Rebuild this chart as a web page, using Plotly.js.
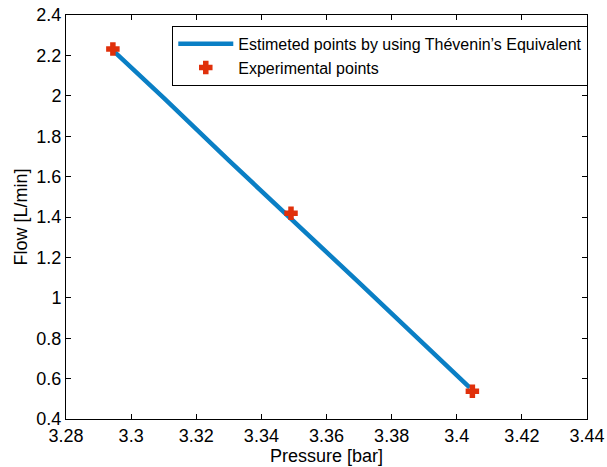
<!DOCTYPE html>
<html>
<head>
<meta charset="utf-8">
<script src="https://cdn.plot.ly/plotly-3.0.1.min.js"></script>
<style>html,body{margin:0;padding:0;background:#fff;}#chart{width:607px;height:467px;}</style>
</head>
<body>
<div id="chart"></div>
<script>
// Estimated line (Thévenin's equivalent)
const estPressure = [3.2944, 3.31, 3.33, 3.349, 3.37, 3.39, 3.404];
const estFlow     = [2.225, 1.99, 1.68, 1.395, 1.075, 0.77, 0.555];
// Experimental points
const expPressure = [3.2944, 3.3491, 3.4048];
const expFlow     = [2.232, 1.418, 0.537];
// Tick values
const xTicks = [3.28, 3.3, 3.32, 3.34, 3.36, 3.38, 3.4, 3.42, 3.44];
const xTickLabels = ['3.28', '3.3', '3.32', '3.34', '3.36', '3.38', '3.4', '3.42', '3.44'];
const yTicks = [0.4, 0.6, 0.8, 1, 1.2, 1.4, 1.6, 1.8, 2, 2.2, 2.4];
const yTickLabels = ['0.4', '0.6', '0.8', '1', '1.2', '1.4', '1.6', '1.8', '2', '2.2', '2.4'];

const FONT = 'Liberation Sans, Arial, Helvetica, sans-serif';

const traces = [
  {
    x: estPressure, y: estFlow, type: 'scatter', mode: 'lines',
    name: 'Estimeted points by using Thévenin’s Equivalent',
    line: {color: '#0a7fc5', width: 4.5}
  },
  {
    x: expPressure, y: expFlow, type: 'scatter', mode: 'markers',
    name: 'Experimental points',
    marker: {symbol: 'cross', size: 10, color: '#e0300b', line: {width: 1.5, color: '#e0300b'}}
  }
];

const axisCommon = {
  showgrid: false, zeroline: false, showline: true, linecolor: '#000', linewidth: 1,
  mirror: 'ticks', ticks: 'inside', ticklen: 5, tickcolor: '#000', tickwidth: 1,
  tickfont: {family: FONT, size: 18, color: '#000'}
};

const layout = {
  width: 607, height: 467,
  margin: {l: 65.5, r: 20, t: 15, b: 48},
  paper_bgcolor: '#fff', plot_bgcolor: '#fff',
  font: {family: FONT, color: '#000'},
  showlegend: true,
  legend: {
    x: 0.204, y: 0.973, xanchor: 'left', yanchor: 'top',
    bgcolor: '#fff', bordercolor: '#000', borderwidth: 1,
    font: {family: FONT, size: 16, color: '#000'},
    itemwidth: 55, tracegroupgap: 0
  },
  xaxis: Object.assign({}, axisCommon, {
    range: [3.28, 3.44], tickvals: xTicks, ticktext: xTickLabels,
    title: {text: 'Pressure [bar]', font: {family: FONT, size: 18, color: '#000'}, standoff: 2}
  }),
  yaxis: Object.assign({}, axisCommon, {
    range: [0.4, 2.4], tickvals: yTicks, ticktext: yTickLabels,
    title: {text: 'Flow [L/min]', font: {family: FONT, size: 18, color: '#000'}, standoff: 4}
  })
};

Plotly.newPlot('chart', traces, layout, {displayModeBar: false, staticPlot: true});
</script>
</body>
</html>
